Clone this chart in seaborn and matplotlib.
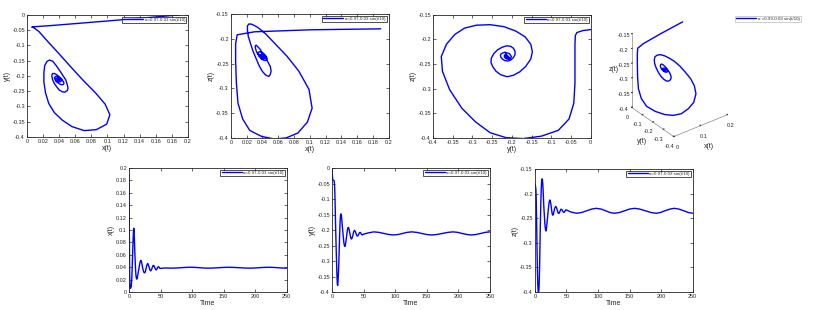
import numpy as np
import pandas as pd
import matplotlib
matplotlib.use("Agg")
import matplotlib.pyplot as plt
import seaborn as sns

# trajectory (time, x(t), y(t), z(t))
t = [0, 0.5, 1, 1.5, 2, 2.5, 3, 3.5, 4, 4.5, 5, 5.5, 6, 6.5, 7, 7.5, 8, 8.5, 9, 9.5,
     10, 10.5, 11, 11.5, 12, 12.5, 13, 13.5, 14, 14.7, 15.4, 16.0, 16.7, 17.4, 18.1,
     18.7, 19.4, 20.1, 20.8, 21.4, 22.1, 22.8, 23.5, 24.1, 24.8, 25.5, 26.2, 26.8,
     27.5, 28.2, 28.9, 29.5, 30.2, 30.9, 31.6, 32.9, 34.3, 35.6, 37.0, 38.3, 39.7,
     41.0, 42.4, 43.7, 45.1, 46.4, 47.8, 49.1,
     57, 66, 74, 82, 90, 97, 105, 112, 119, 126, 134, 142, 150, 158, 166, 175, 184,
     192, 199, 206, 214, 221, 228, 236, 243, 250]
x = [0.190, 0.100, 0.030, 0.008, 0.006, 0.006, 0.007, 0.009, 0.015, 0.024, 0.039,
     0.055, 0.070, 0.085, 0.097, 0.103, 0.099, 0.086, 0.071, 0.056, 0.044, 0.034,
     0.027, 0.023, 0.021, 0.021, 0.022, 0.025, 0.028, 0.032, 0.036, 0.040, 0.044,
     0.048, 0.050, 0.051, 0.050, 0.047, 0.044, 0.040, 0.037, 0.034, 0.032, 0.031,
     0.031, 0.032, 0.034, 0.037, 0.040, 0.043, 0.045, 0.046, 0.045, 0.043, 0.041,
     0.036, 0.034, 0.036, 0.040, 0.043, 0.042, 0.039, 0.036, 0.036, 0.039, 0.041,
     0.040, 0.038,
     0.0388, 0.0385, 0.0387, 0.0392, 0.0397, 0.0399, 0.0397, 0.0392, 0.0387, 0.0385,
     0.0387, 0.0392, 0.0397, 0.0399, 0.0397, 0.0392, 0.0387, 0.0385, 0.0387, 0.0392,
     0.0397, 0.0399, 0.0397, 0.0392, 0.0387, 0.0385]
y = [0.000, -0.020, -0.035, -0.039, -0.040, -0.040, -0.040, -0.043, -0.055, -0.082,
     -0.125, -0.172, -0.215, -0.255, -0.292, -0.327, -0.358, -0.376, -0.379, -0.366,
     -0.345, -0.320, -0.290, -0.255, -0.220, -0.190, -0.166, -0.152, -0.148, -0.152,
     -0.165, -0.180, -0.196, -0.212, -0.228, -0.240, -0.248, -0.253, -0.252, -0.246,
     -0.236, -0.225, -0.213, -0.203, -0.196, -0.192, -0.192, -0.196, -0.203, -0.210,
     -0.218, -0.224, -0.228, -0.229, -0.227, -0.218, -0.206, -0.201, -0.205, -0.213,
     -0.219, -0.219, -0.213, -0.208, -0.208, -0.213, -0.216, -0.214,
     -0.2095, -0.206, -0.2075, -0.211, -0.2145, -0.216, -0.2145, -0.211, -0.2075,
     -0.206, -0.2075, -0.211, -0.2145, -0.216, -0.2145, -0.211, -0.2075, -0.206,
     -0.2075, -0.211, -0.2145, -0.216, -0.2145, -0.211, -0.2075, -0.206]
z = [-0.180, -0.182, -0.186, -0.192, -0.210, -0.245, -0.290, -0.330, -0.362, -0.385,
     -0.397, -0.402, -0.400, -0.390, -0.368, -0.340, -0.302, -0.265, -0.235, -0.210,
     -0.190, -0.177, -0.171, -0.170, -0.174, -0.183, -0.195, -0.210, -0.225, -0.240,
     -0.255, -0.266, -0.273, -0.276, -0.272, -0.265, -0.256, -0.247, -0.238, -0.229,
     -0.221, -0.216, -0.213, -0.214, -0.218, -0.224, -0.231, -0.237, -0.242, -0.244,
     -0.243, -0.240, -0.236, -0.232, -0.229, -0.226, -0.229, -0.235, -0.240, -0.240,
     -0.236, -0.232, -0.232, -0.235, -0.238, -0.238, -0.235, -0.233,
     -0.2375, -0.240, -0.2385, -0.235, -0.2315, -0.230, -0.2315, -0.235, -0.2385,
     -0.240, -0.2385, -0.235, -0.2315, -0.230, -0.2315, -0.235, -0.2385, -0.240,
     -0.2385, -0.235, -0.2315, -0.230, -0.2315, -0.235, -0.2385, -0.240]

label_a = "α=0.97-0.03 sin(t/10)"
label_b = "α =0.99-0.03 sin(t/10)"

df = pd.DataFrame({"Time": t, "x": x, "y": y, "z": z})

sns.set_style("ticks")
plt.rcParams["font.family"] = ["Liberation Sans", "DejaVu Sans"]
plt.rcParams["axes.linewidth"] = 0.6

fig = plt.figure(figsize=(8.13, 3.10), dpi=100)


def fmt(ax, xlim, ylim, xt, yt, xlabel, ylabel):
    ax.set_xlim(*xlim)
    ax.set_ylim(*ylim)
    ax.set_xticks(xt)
    ax.set_xticklabels([f"{v:g}" for v in xt])
    ax.set_yticks(yt)
    ax.set_yticklabels([f"{v:g}" for v in yt])
    ax.tick_params(direction="in", top=True, right=True, length=2, width=0.5,
                   labelsize=4, pad=1.5)
    ax.set_xlabel(xlabel, fontsize=5, labelpad=1)
    ax.set_ylabel(ylabel, fontsize=5, labelpad=1)
    leg = ax.legend(loc="upper right", fontsize=3.2, fancybox=False, edgecolor="black",
                    handlelength=4.5, borderpad=0.25, borderaxespad=0.4,
                    handletextpad=0.4)
    leg.get_frame().set_linewidth(0.6)


x02 = [0, 0.02, 0.04, 0.06, 0.08, 0.1, 0.12, 0.14, 0.16, 0.18, 0.2]
y04 = [-0.4, -0.35, -0.3, -0.25, -0.2, -0.15, -0.1, -0.05, 0]
z04 = [-0.4, -0.35, -0.3, -0.25, -0.2, -0.15]
tt = [0, 50, 100, 150, 200, 250]

# top row: phase portraits
ax1 = fig.add_axes([0.0332, 0.558, 0.198, 0.394])
sns.lineplot(data=df, x="x", y="y", sort=False, estimator=None, color="blue", lw=1,
             ax=ax1, label=label_a)
fmt(ax1, (0, 0.2), (-0.4, 0), x02, y04, "x(t)", "y(t)")

ax2 = fig.add_axes([0.284, 0.555, 0.194, 0.400])
sns.lineplot(data=df, x="x", y="z", sort=False, estimator=None, color="blue", lw=1,
             ax=ax2, label=label_a)
fmt(ax2, (0, 0.2), (-0.4, -0.15), x02, z04, "x(t)", "z(t)")

ax3 = fig.add_axes([0.5326, 0.556, 0.194, 0.396])
sns.lineplot(data=df, x="y", y="z", sort=False, estimator=None, color="blue", lw=1,
             ax=ax3, label=label_a)
fmt(ax3, (-0.4, 0), (-0.4, -0.15), y04, z04, "y(t)", "z(t)")

# 3d view
ax4 = fig.add_axes([0.728, 0.463, 0.21, 0.58], projection="3d")
line3d, = ax4.plot(df["x"], df["y"], df["z"], color="blue", lw=1, label=label_b)
ax4.set_proj_type("ortho")
ax4.set_xlim(0, 0.2)
ax4.set_ylim(-0.4, 0)
ax4.set_zlim(-0.4, -0.15)
ax4.set_box_aspect((0.9, 0.92, 1.15), zoom=0.74)
ax4.set_xticks([0, 0.1, 0.2])
ax4.set_xticklabels(["0", "0.1", "0.2"])
ax4.set_yticks([-0.4, -0.3, -0.2, -0.1, 0])
ax4.set_yticklabels(["-0.4", "-0.3", "-0.2", "-0.1", "0"])
ax4.set_zticks(z04)
ax4.set_zticklabels([f"{v:g}" for v in z04])
ax4.view_init(elev=32, azim=-127.5)
ax4.grid(False)
for a in (ax4.xaxis, ax4.yaxis, ax4.zaxis):
    a.set_pane_color((1, 1, 1, 0))
    a.line.set_color("#888888")
    a.line.set_linewidth(0.5)
    a._axinfo["tick"]["inward_factor"] = 0.0
    a._axinfo["tick"]["outward_factor"] = 0.2
ax4.tick_params(labelsize=4, pad=-3)
ax4.set_xlabel("x(t)", fontsize=5, labelpad=-8)
ax4.set_ylabel("y(t)", fontsize=5, labelpad=-8)
ax4.set_zlabel("z(t)", fontsize=5, labelpad=-9)
leg4 = fig.legend(handles=[line3d], loc="upper right", bbox_to_anchor=(0.988, 0.957),
                  fontsize=3.2, fancybox=False, edgecolor="#aaaaaa", handlelength=4.5,
                  borderpad=0.25, handletextpad=0.4)
leg4.get_frame().set_linewidth(0.5)

# bottom row: time series
ax5 = fig.add_axes([0.1587, 0.058, 0.194, 0.400])
sns.lineplot(data=df, x="Time", y="x", estimator=None, color="blue", lw=1, ax=ax5,
             label=label_a)
fmt(ax5, (0, 250), (0, 0.2), tt, x02, "Time", "x(t)")

ax6 = fig.add_axes([0.4084, 0.058, 0.194, 0.400])
sns.lineplot(data=df, x="Time", y="y", estimator=None, color="blue", lw=1, ax=ax6,
             label=label_a)
fmt(ax6, (0, 250), (-0.4, 0), tt, y04, "Time", "y(t)")

ax7 = fig.add_axes([0.658, 0.058, 0.194, 0.397])
sns.lineplot(data=df, x="Time", y="z", estimator=None, color="blue", lw=1, ax=ax7,
             label=label_a)
fmt(ax7, (0, 250), (-0.4, -0.15), tt, z04, "Time", "z(t)")

fig.savefig("out.png", dpi=100)
